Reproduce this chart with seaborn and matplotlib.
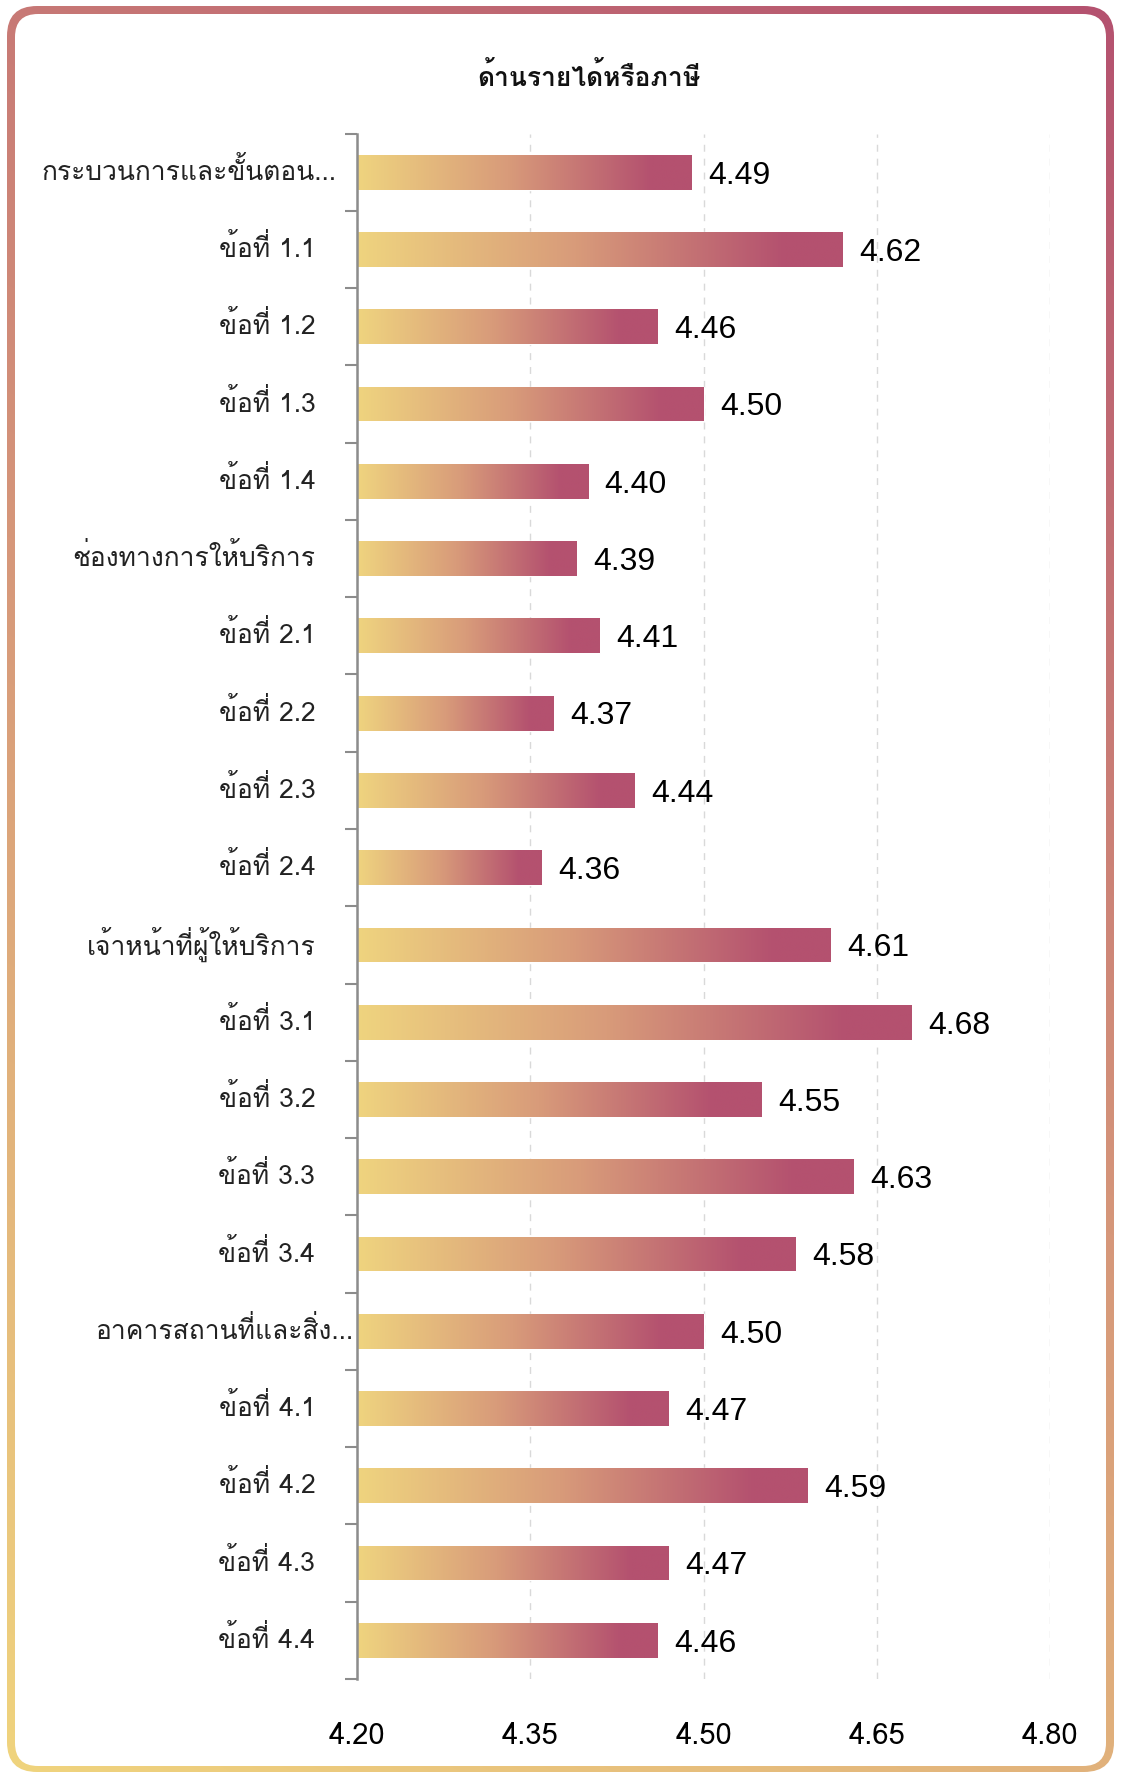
import numpy as np
import pandas as pd
import seaborn as sns
import matplotlib.pyplot as plt
from matplotlib import font_manager, ft2font
from matplotlib.colors import LinearSegmentedColormap
from matplotlib.patches import FancyBboxPatch
from matplotlib.ticker import FixedLocator
from matplotlib.transforms import ScaledTranslation

# --- data ---
labels = [
    "กระบวนการและขั้นตอน...", "ข้อที่ 1.1", "ข้อที่ 1.2", "ข้อที่ 1.3", "ข้อที่ 1.4",
    "ช่องทางการให้บริการ", "ข้อที่ 2.1", "ข้อที่ 2.2", "ข้อที่ 2.3", "ข้อที่ 2.4",
    "เจ้าหน้าที่ผู้ให้บริการ", "ข้อที่ 3.1", "ข้อที่ 3.2", "ข้อที่ 3.3", "ข้อที่ 3.4",
    "อาคารสถานที่และสิ่ง...", "ข้อที่ 4.1", "ข้อที่ 4.2", "ข้อที่ 4.3", "ข้อที่ 4.4",
]
scores = [4.49, 4.62, 4.46, 4.50, 4.40,
          4.39, 4.41, 4.37, 4.44, 4.36,
          4.61, 4.68, 4.55, 4.63, 4.58,
          4.50, 4.47, 4.59, 4.47, 4.46]
x_ticks = [4.20, 4.35, 4.50, 4.65, 4.80]
x_min, x_max = 4.20, 4.80
title = "ด้านรายได้หรือภาษี"

df = pd.DataFrame({"label": labels, "score": scores})


# find some installed font that has Thai glyphs
def find_thai_font():
    best = None
    for f in font_manager.fontManager.ttflist:
        try:
            cmap = ft2font.FT2Font(f.fname).get_charmap()
        except Exception:
            continue
        if 0x0E01 in cmap:
            if f.weight in (400, "normal", "regular") and f.style == "normal":
                return f.name
            best = best or f.name
    return best


thai = find_thai_font()
families = ([thai] if thai else []) + ["DejaVu Sans"]

sns.set_theme(style="white")
plt.rcParams["font.family"] = families

W, H = 1121, 1774
fig = plt.figure(figsize=(W / 100, H / 100), dpi=100)

# --- rounded gradient frame ---
bg = fig.add_axes([0, 0, 1, 1])
bg.set_xlim(0, W)
bg.set_ylim(H, 0)
bg.axis("off")
frame_cmap = LinearSegmentedColormap.from_list(
    "frame", ["#f0d47e", "#d6977a", "#b4516f"])
xx, yy = np.meshgrid(np.arange(W), np.arange(H))
t = (xx * W + (H - yy) * H) / (W ** 2 + H ** 2)
outer = FancyBboxPatch((7 + 30, 7 + 30), W - 14 - 60, H - 8 - 60,
                       boxstyle="round,pad=30", transform=bg.transData,
                       facecolor="none", edgecolor="none")
bg.add_patch(outer)
im = bg.imshow(t, cmap=frame_cmap, extent=[0, W, H, 0], aspect="auto",
               interpolation="bilinear")
im.set_clip_path(outer)
inner = FancyBboxPatch((15 + 23, 15 + 23), W - 30 - 46, H - 22 - 46,
                       boxstyle="round,pad=23", facecolor="white",
                       edgecolor="none", zorder=3)
bg.add_patch(inner)

# --- bar chart ---
ax = fig.add_axes([357 / W, 1 - 1680 / H, (1050 - 357) / W, (1680 - 134.6) / H])
ax.patch.set_alpha(0)
sns.barplot(data=df, x="score", y="label", orient="h", color="#d89b7a",
            width=0.45, ax=ax, zorder=2)

# bars start at the axis minimum, not at zero
for p in ax.patches:
    w = p.get_width()
    p.set_x(x_min)
    p.set_width(w - x_min)

bar_cmap = LinearSegmentedColormap.from_list(
    "bar", [(0, "#efd47f"), (0.45, "#d89b7a"), (0.88, "#b4516f"), (1, "#b4516f")])
grad = np.linspace(0, 1, 256).reshape(1, -1)
for p in list(ax.patches):
    x0, y0 = p.get_x(), p.get_y()
    w, h = p.get_width(), p.get_height()
    img = ax.imshow(grad, cmap=bar_cmap, extent=[x0, x0 + w, y0 + h, y0],
                    aspect="auto", zorder=3, interpolation="bilinear")
    img.set_clip_path(p)

ax.set_xlim(x_min, x_max)
ax.set_ylim(len(labels) - 0.5, -0.5)

for i, v in enumerate(scores):
    ax.text(v + 0.0145, i + 0.03, f"{v:.2f}", va="center", ha="left",
            fontsize=23, color="black",
            family=["Liberation Sans", "DejaVu Sans"], zorder=4)

# grid + axis styling
ax.set_xticks(x_ticks)
ax.set_xticklabels([f"{x:.2f}" for x in x_ticks])
ax.grid(axis="x", color="#d9d9d9", linestyle=(0, (5, 5)), linewidth=1)
ax.grid(axis="y", visible=False)
for s in ["top", "right", "bottom"]:
    ax.spines[s].set_visible(False)
ax.spines["left"].set_color("#8c8c8c")
ax.spines["left"].set_linewidth(1.8)
ax.spines["left"].set_zorder(5)

ax.yaxis.set_minor_locator(FixedLocator(np.arange(-0.5, len(labels), 1)))
ax.tick_params(axis="y", which="major", length=0, pad=30, labelsize=19,
               labelcolor="#222222")
ax.tick_params(axis="y", which="minor", left=True, length=9, width=1.5,
               color="#8c8c8c")
ax.tick_params(axis="x", length=0, pad=30, labelsize=21, labelcolor="black")
ax.set_xlabel("")
ax.set_ylabel("")

# nudge category labels up a bit; truncated ones sit further right
for lbl in ax.get_yticklabels():
    dx = 0
    if lbl.get_text().startswith("กระบวนการ"):
        dx = 21
    elif lbl.get_text().startswith("อาคาร"):
        dx = 38
    lbl.set_transform(lbl.get_transform()
                      + ScaledTranslation(dx / 100, 5 / 100, fig.dpi_scale_trans))

fig.text(589 / W, 1 - 77 / H, title, ha="center", va="center",
         fontsize=19, fontweight="bold", color="#111111")

fig.savefig("out.png", dpi=100)
